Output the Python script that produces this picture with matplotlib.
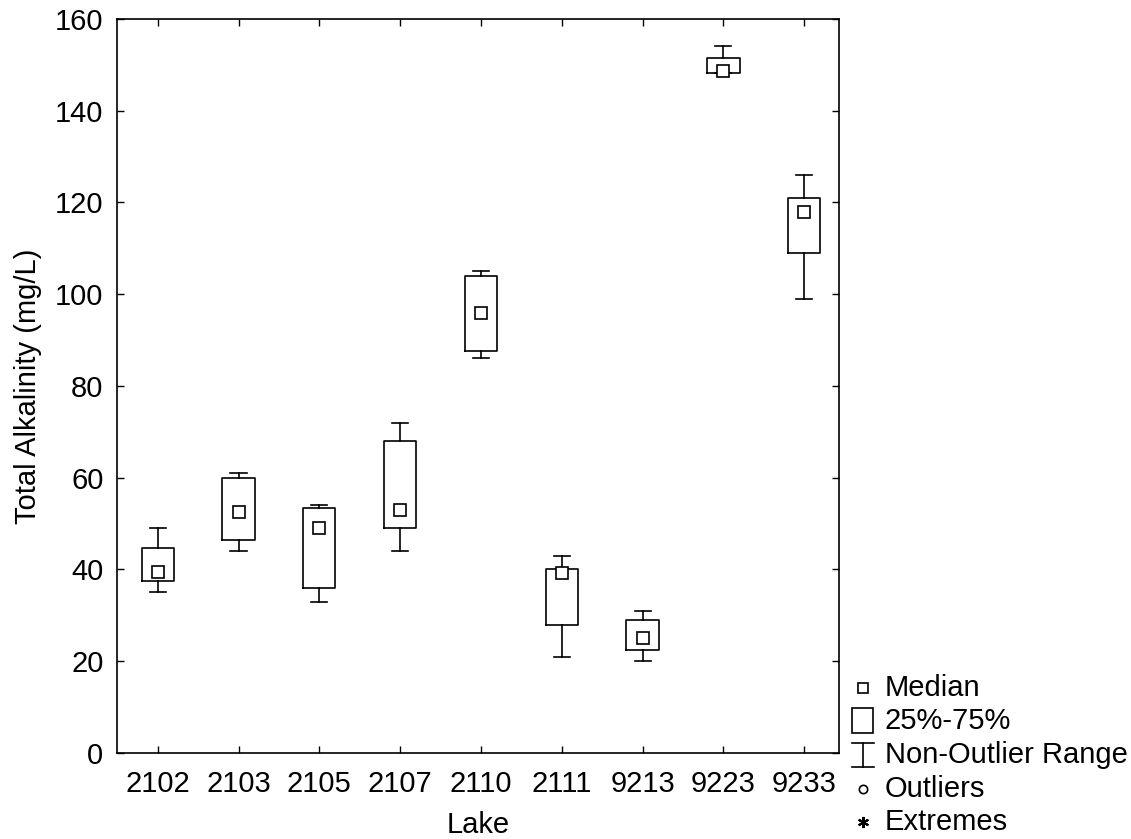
import matplotlib
matplotlib.use("Agg")
import matplotlib.pyplot as plt
from matplotlib.lines import Line2D
from matplotlib.patches import Rectangle

plt.rcParams['font.family'] = ['Liberation Sans', 'DejaVu Sans']

# box plot values (mg/L)
lakes = ["2102", "2103", "2105", "2107", "2110", "2111", "9213", "9223", "9233"]
medians = [39.5, 52.5, 49.0, 53.0, 96.0, 39.2, 25.0, 148.7, 118.0]
q1 = [37.5, 46.5, 36.0, 49.0, 87.6, 28.0, 22.5, 148.2, 109.0]
q3 = [44.6, 60.0, 53.5, 68.0, 104.0, 40.0, 29.0, 151.5, 121.0]
whisk_lo = [35.0, 44.0, 33.0, 44.0, 86.0, 21.0, 20.0, 148.2, 99.0]
whisk_hi = [49.0, 61.0, 54.0, 72.0, 105.0, 43.0, 31.0, 154.0, 126.0]

FS = 21

fig = plt.figure(figsize=(11.31, 8.39), dpi=100)
ax = fig.add_axes([0.1037, 0.1025, 0.6381, 0.8749])

stats = []
for i in range(len(lakes)):
    stats.append(dict(med=medians[i], q1=q1[i], q3=q3[i],
                      whislo=whisk_lo[i], whishi=whisk_hi[i], fliers=[]))

pos = list(range(1, len(lakes) + 1))
lw = 1.2
ax.bxp(stats, positions=pos, widths=0.4, capwidths=0.2, showfliers=False,
       boxprops=dict(color='black', linewidth=lw),
       whiskerprops=dict(color='black', linewidth=lw),
       capprops=dict(color='black', linewidth=lw),
       medianprops=dict(visible=False))
ax.plot(pos, medians, 's', ms=8, mfc='white', mec='black', mew=lw, zorder=5)

ax.set_xlim(0.5, 9.43)
ax.set_ylim(0, 160)
ax.set_xticks(pos)
ax.set_xticklabels(lakes)
ax.set_yticks(range(0, 161, 20))
ax.tick_params(direction='in', length=5, width=1, labelsize=FS,
               top=True, right=True)
ax.tick_params(axis='x', pad=12)
ax.tick_params(axis='y', pad=10)
for s in ax.spines.values():
    s.set_linewidth(1.2)

ax.set_xlabel("Lake", fontsize=FS, labelpad=9.5)
ax.set_ylabel("Total Alkalinity (mg/L)", fontsize=FS, labelpad=9)

# legend drawn in figure pixels
W, H = 1131, 839
def fx(px):
    return px / W
def fy(py):
    return 1 - py / H

mx = 863
tx = 885
rows = [688, 721, 755, 789, 822]
labels = ["Median", "25%-75%", "Non-Outlier Range", "Outliers", "Extremes"]
for y, lab in zip(rows, labels):
    fig.text(fx(tx), fy(y), lab, fontsize=FS, va='center', ha='left')

fig.add_artist(Line2D([fx(mx)], [fy(rows[0])], marker='s', ms=7, mfc='white',
                      mec='black', mew=1.2))
fig.add_artist(Rectangle((fx(852), fy(733)), fx(21), 25 / H, fill=False,
                         ec='black', lw=1.2))
fig.add_artist(Line2D([fx(mx), fx(mx)], [fy(743), fy(767)], color='black', lw=1.2))
fig.add_artist(Line2D([fx(852), fx(874)], [fy(743), fy(743)], color='black', lw=1.2))
fig.add_artist(Line2D([fx(852), fx(874)], [fy(767), fy(767)], color='black', lw=1.2))
fig.add_artist(Line2D([fx(mx)], [fy(rows[3])], marker='o', ms=6, mfc='white',
                      mec='black', mew=1.2))
fig.add_artist(Line2D([fx(mx)], [fy(rows[4])], marker=(6, 2, 0), ms=8,
                      color='black', mew=1.5))

fig.savefig("out.png", dpi=100)
